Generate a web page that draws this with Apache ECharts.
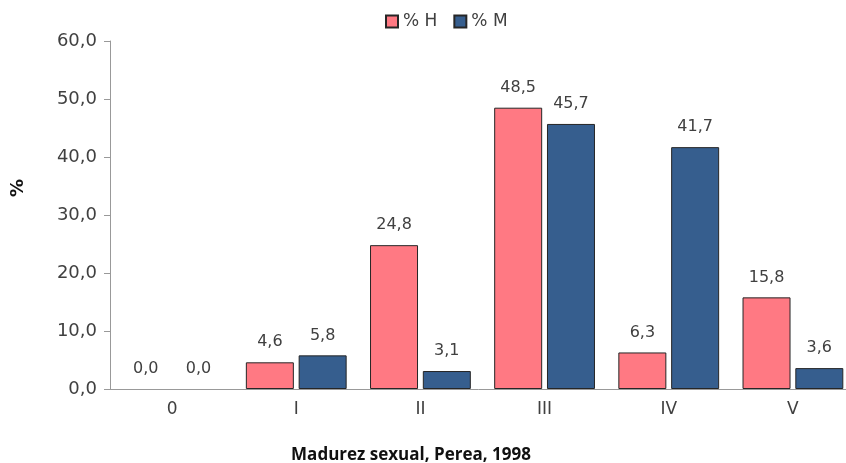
<!DOCTYPE html>
<html><head><meta charset="utf-8">
<script src="https://cdn.jsdelivr.net/npm/echarts@6/dist/echarts.min.js"></script>
<style>html,body{margin:0;padding:0;background:#fff}#c{width:846px;height:463px}</style>
</head><body><div id="c"></div>
<script>
var categories = ['0', 'I', 'II', 'III', 'IV', 'V'];
var seriesH = [0.0, 4.6, 24.8, 48.5, 6.3, 15.8];
var seriesM = [0.0, 5.8, 3.1, 45.7, 41.7, 3.6];
var yTicks = [0, 10, 20, 30, 40, 50, 60];

var chart = echarts.init(document.getElementById('c'));
var fmt = function (v) { return v.toFixed(1).replace('.', ','); };
var txt = '#404040';
var F = 'DejaVu Sans';
var lbl = { show: true, position: 'top', distance: 12, color: txt, fontFamily: F, fontSize: 16,
  formatter: function (p) { return fmt(p.value); } };
function items(arr) {
  return arr.map(function (v) { return v === 0 ? { value: v, itemStyle: { borderWidth: 0, color: 'rgba(0,0,0,0)' } } : v; });
}
chart.setOption({
  animation: false,
  textStyle: { fontFamily: F },
  title: { text: 'Madurez sexual, Perea, 1998', left: 406, textAlign: 'center', top: 442,
    textStyle: { fontFamily: 'Open Sans', fontWeight: 'bold', fontSize: 17, color: '#111' } },
  legend: { top: 8, left: 380, itemWidth: 12, itemHeight: 12, itemGap: 16,
    textStyle: { color: txt, fontSize: 17, fontFamily: F },
    data: [{ name: '% H', icon: 'rect' }, { name: '% M', icon: 'rect' }] },
  graphic: [{ type: 'text', x: 18, y: 188, rotation: Math.PI / 2,
    style: { text: '%', fontFamily: F, fontWeight: 'bold', fontSize: 18, fill: '#111',
      textAlign: 'center', textVerticalAlign: 'middle' } }],
  grid: { left: 110, width: 745, top: 41, bottom: 74, outerBoundsMode: 'none', containLabel: false },
  xAxis: { type: 'category', data: categories,
    axisLine: { lineStyle: { color: '#999', width: 1 } }, axisTick: { show: false },
    axisLabel: { color: txt, fontSize: 17, fontFamily: F, margin: 12 } },
  yAxis: { type: 'value', min: yTicks[0], max: yTicks[yTicks.length - 1], interval: 10,
    axisLine: { show: true, lineStyle: { color: '#999' } },
    axisTick: { show: true, length: 6, lineStyle: { color: '#999' } },
    splitLine: { show: false },
    axisLabel: { color: txt, fontSize: 18, fontFamily: F, margin: 13, formatter: fmt } },
  series: [
    { name: '% H', type: 'bar', data: items(seriesH), barWidth: 48, barGap: '10%',
      itemStyle: { color: '#FF7983', borderColor: '#262626', borderWidth: 1 }, label: lbl },
    { name: '% M', type: 'bar', data: items(seriesM), barWidth: 48,
      itemStyle: { color: '#365E8E', borderColor: '#262626', borderWidth: 1 }, label: lbl }
  ]
});
</script></body></html>
